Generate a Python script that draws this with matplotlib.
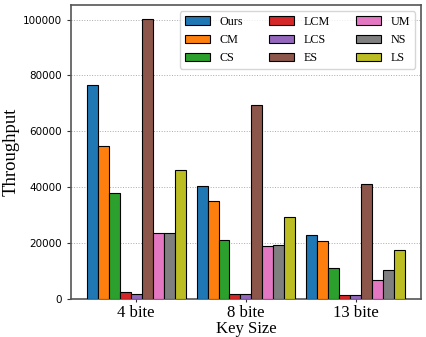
import matplotlib
matplotlib.use("Agg")
import matplotlib.pyplot as plt
import numpy as np

groups = ['4 bite', '8 bite', '13 bite']
methods = ['Ours', 'CM', 'CS', 'LCM', 'LCS', 'ES', 'UM', 'NS', 'LS']
colors = ['#1f77b4', '#ff7f0e', '#2ca02c', '#d62728', '#9467bd',
          '#8c564b', '#e377c2', '#7f7f7f', '#bcbd22']

ours = [76700, 40500, 23000]
cm = [54700, 35000, 20800]
cs = [37800, 21000, 11200]
lcm = [2300, 1900, 1500]
lcs = [1800, 1800, 1400]
es = [100200, 69600, 41000]
um = [23600, 19000, 6800]
ns = [23600, 19300, 10500]
ls = [46100, 29500, 17400]
values = [ours, cm, cs, lcm, lcs, es, um, ns, ls]

fig = plt.figure(figsize=(4.27, 3.37), dpi=100)
ax = fig.add_axes([0.166, 0.113, 0.820, 0.872])

x = np.arange(len(groups))
w = 0.1
for i, (name, vals) in enumerate(zip(methods, values)):
    ax.bar(x - 0.4 + i * w, vals, w, label=name, color=colors[i],
           edgecolor='black', linewidth=0.8, zorder=3)

ax.set_xticks(x)
ax.set_xticklabels(groups, fontfamily='Liberation Serif', fontsize=12)
ax.tick_params(axis='y', labelsize=7.5, length=3, width=0.8, colors='#333333')
ax.tick_params(axis='x', length=2.5, width=0.8, color='#333333', pad=2)
for lbl in ax.get_yticklabels():
    lbl.set_color('black')
ax.set_xlabel('Key Size', fontfamily='Liberation Serif', fontsize=12, labelpad=0)
ax.set_ylabel('Throughput', fontfamily='Liberation Serif', fontsize=13.5, labelpad=2)
ax.yaxis.grid(True, linestyle=':', color='#aaaaaa', linewidth=0.7, zorder=0)
for s in ax.spines.values():
    s.set_color('#555555')
    s.set_linewidth(1.2)

ax.legend(ncol=3, loc='upper right', prop={'family': 'Liberation Serif', 'size': 8.7},
          handlelength=2.1, columnspacing=2.1, borderaxespad=0.5)

fig.savefig('out.png', dpi=100)
